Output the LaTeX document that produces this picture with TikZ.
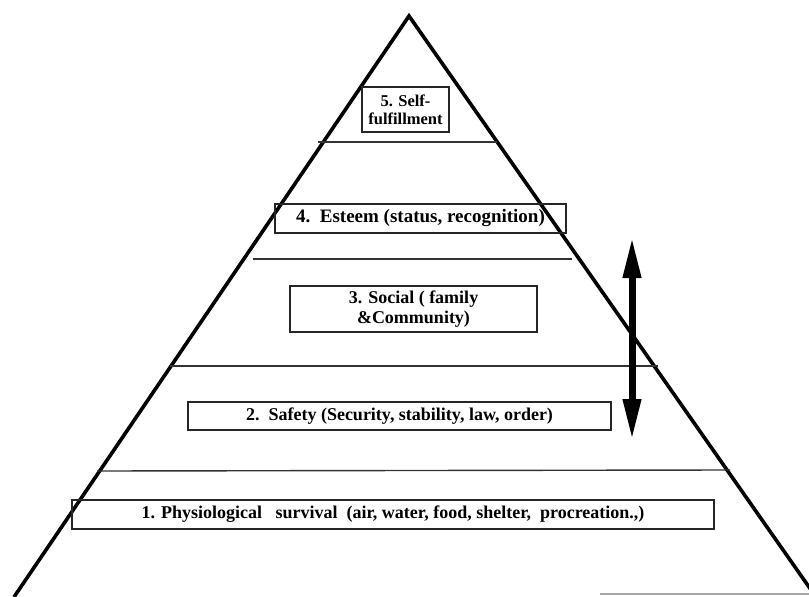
\documentclass[tikz,border=0pt]{standalone}
\usepackage{fontspec}
\setmainfont{Liberation Serif}
\usetikzlibrary{arrows.meta}
\begin{document}
\begin{tikzpicture}[x=1pt,y=-1pt,
  lvl/.style={draw=black!85, line width=1.1pt, inner sep=0pt, align=center,
    font=\bfseries\fontsize{18}{20}\selectfont},
  sep/.style={draw=black!80, line width=1.4pt},
  side/.style={line width=3.6pt}]
\clip (0,0) rectangle (809,597);
\fill[white] (0,0) rectangle (809,597);
% pyramid sides
\coordinate (apex) at (409,16);
\coordinate (bl) at (14,597);
\coordinate (br) at (816,597);
\draw[side] (bl) -- (apex) -- (br);
% separator lines
\coordinate (s1a) at (318,142); \coordinate (s1b) at (497,142);
\coordinate (s2a) at (253,259); \coordinate (s2b) at (572,259);
\coordinate (s3a) at (170,366); \coordinate (s3b) at (658,366);
\coordinate (s4a) at (97,471);  \coordinate (s4b) at (730,470);
\coordinate (s5a) at (600,594); \coordinate (s5b) at (809,594);
\draw[sep] (s1a) -- (s1b);
\draw[sep] (s2a) -- (s2b);
\draw[sep] (s3a) -- (s3b);
\draw[sep] (s4a) -- (s4b);
\draw[draw=black!35, line width=1.2pt] (s5a) -- (s5b);
% level boxes
\node[lvl, minimum width=87pt, minimum height=45pt, font=\bfseries\fontsize{16.5}{18}\selectfont] (b5) at (405.5,109.5) {5. Self-\\fulfillment};
\node[lvl, minimum width=291pt, minimum height=29pt, font=\bfseries\fontsize{19}{21}\selectfont] (b4) at (420.5,218.5) {4.\ \ Esteem (status, recognition)};
\node[lvl, minimum width=247pt, minimum height=46pt] (b3) at (413.5,309) {3. Social ( family\\\&Community)};
\node[lvl, minimum width=423pt, minimum height=28pt] (b2) at (399.5,416) {2.\ \ Safety (Security, stability, law, order)};
\node[lvl, minimum width=642pt, minimum height=29pt] (b1) at (393,514.5) {1. Physiological\ \ \ survival\ \ (air, water, food, shelter,\ \ procreation.,)};
% double arrow
\coordinate (at) at (632,237);
\coordinate (ab) at (632,440);
\draw[line width=7pt, {Triangle[length=41pt,width=17pt]}-{Triangle[length=41pt,width=17pt]}] (at) -- (ab);
\end{tikzpicture}
\end{document}
